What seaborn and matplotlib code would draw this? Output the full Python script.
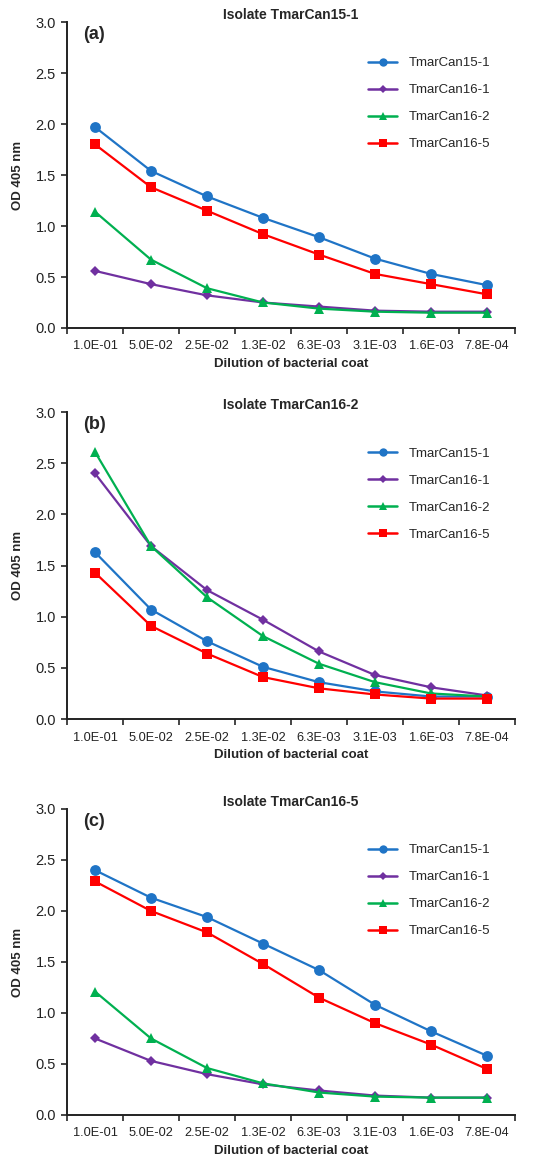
import numpy as np
import pandas as pd
import matplotlib
matplotlib.use("Agg")
import matplotlib.pyplot as plt
import seaborn as sns

dilutions = ["1.0E-01", "5.0E-02", "2.5E-02", "1.3E-02", "6.3E-03", "3.1E-03", "1.6E-03", "7.8E-04"]
isolates = ["TmarCan15-1", "TmarCan16-1", "TmarCan16-2", "TmarCan16-5"]

# (a) coated with isolate TmarCan15-1
a_15_1 = [1.97, 1.54, 1.29, 1.08, 0.89, 0.68, 0.53, 0.42]
a_16_1 = [0.56, 0.43, 0.32, 0.25, 0.21, 0.17, 0.16, 0.16]
a_16_2 = [1.14, 0.67, 0.39, 0.25, 0.19, 0.16, 0.15, 0.15]
a_16_5 = [1.80, 1.38, 1.15, 0.92, 0.72, 0.53, 0.43, 0.33]

# (b) coated with isolate TmarCan16-2
b_15_1 = [1.63, 1.07, 0.76, 0.51, 0.36, 0.27, 0.22, 0.22]
b_16_1 = [2.40, 1.69, 1.26, 0.97, 0.66, 0.43, 0.31, 0.23]
b_16_2 = [2.61, 1.69, 1.19, 0.81, 0.54, 0.36, 0.25, 0.22]
b_16_5 = [1.43, 0.91, 0.64, 0.41, 0.30, 0.24, 0.20, 0.20]

# (c) coated with isolate TmarCan16-5
c_15_1 = [2.40, 2.13, 1.94, 1.68, 1.42, 1.08, 0.82, 0.58]
c_16_1 = [0.75, 0.53, 0.40, 0.30, 0.24, 0.19, 0.17, 0.17]
c_16_2 = [1.21, 0.75, 0.46, 0.31, 0.22, 0.18, 0.17, 0.17]
c_16_5 = [2.29, 2.00, 1.79, 1.48, 1.15, 0.90, 0.69, 0.45]

panel_tags = ["(a)", "(b)", "(c)"]
panel_titles = ["Isolate TmarCan15-1", "Isolate TmarCan16-2", "Isolate TmarCan16-5"]
panel_series = [
    [a_15_1, a_16_1, a_16_2, a_16_5],
    [b_15_1, b_16_1, b_16_2, b_16_5],
    [c_15_1, c_16_1, c_16_2, c_16_5],
]

colors = {"TmarCan15-1": "#1f74c6", "TmarCan16-1": "#7030a0",
          "TmarCan16-2": "#00b050", "TmarCan16-5": "#ff0000"}
markers = {"TmarCan15-1": "o", "TmarCan16-1": "D", "TmarCan16-2": "^", "TmarCan16-5": "s"}
msizes = {"o": 7.8, "D": 5.4, "^": 7.8, "s": 6.5}

sns.set_style("ticks")
plt.rcParams["font.family"] = ["Liberation Sans", "DejaVu Sans"]

fig = plt.figure(figsize=(5.36, 11.59), dpi=100)
axes_rects = [
    [0.125, 0.717, 0.836, 0.264],
    [0.125, 0.3796, 0.836, 0.2649],
    [0.125, 0.038, 0.836, 0.264],
]

for rect, tag, title, series in zip(axes_rects, panel_tags, panel_titles, panel_series):
    ax = fig.add_axes(rect)
    df = pd.DataFrame({
        "dilution": dilutions * len(isolates),
        "od": np.concatenate(series),
        "isolate": np.repeat(isolates, len(dilutions)),
    })
    sns.lineplot(data=df, x="dilution", y="od", hue="isolate", style="isolate",
                 palette=colors, markers=markers, dashes=False, sort=False,
                 linewidth=1.6, markeredgewidth=0, ax=ax)
    for line in ax.lines:
        m = line.get_marker()
        if m in msizes:
            line.set_markersize(msizes[m])

    ax.set_xlim(-0.5, 7.5)
    ax.set_ylim(0, 3.0)
    ax.set_yticks(np.arange(0, 3.01, 0.5))
    ax.set_yticklabels([f"{v:.1f}" for v in np.arange(0, 3.01, 0.5)], fontsize=10.5, color="#222222")
    ax.set_xticks(range(len(dilutions)))
    ax.set_xticklabels(dilutions, fontsize=9.2, color="#222222")
    ax.set_xticks(np.arange(-0.5, len(dilutions), 1), minor=True)
    ax.tick_params(axis="x", which="major", length=0, pad=9)
    ax.tick_params(axis="x", which="minor", length=4, width=1.2, direction="out")
    ax.tick_params(axis="y", length=4, width=1.2, direction="out", pad=4)
    for side in ["top", "right"]:
        ax.spines[side].set_visible(False)
    for side in ["left", "bottom"]:
        ax.spines[side].set_linewidth(1.4)
        ax.spines[side].set_color("#222222")

    ax.set_ylabel("OD 405 nm", fontsize=9.5, fontweight="bold", labelpad=8)
    ax.set_xlabel("Dilution of bacterial coat", fontsize=9.5, fontweight="bold", labelpad=4)
    ax.set_title(title, fontsize=10, fontweight="bold", pad=1.5)
    ax.text(0.036, 0.958, tag, transform=ax.transAxes, fontsize=13,
            fontweight="bold", va="center", ha="left")

    handles, labels = ax.get_legend_handles_labels()
    leg = ax.legend(handles, labels, loc="upper left", bbox_to_anchor=(0.672, 0.885),
                    frameon=False, fontsize=9.5, borderpad=0, borderaxespad=0,
                    handlelength=2.2, handletextpad=0.9, labelspacing=1.12)
    for h in leg.legend_handles:
        h.set_markersize(6.0 if h.get_marker() != "D" else 4.5)
        h.set_linewidth(1.8)

fig.savefig("out.png", dpi=100)
